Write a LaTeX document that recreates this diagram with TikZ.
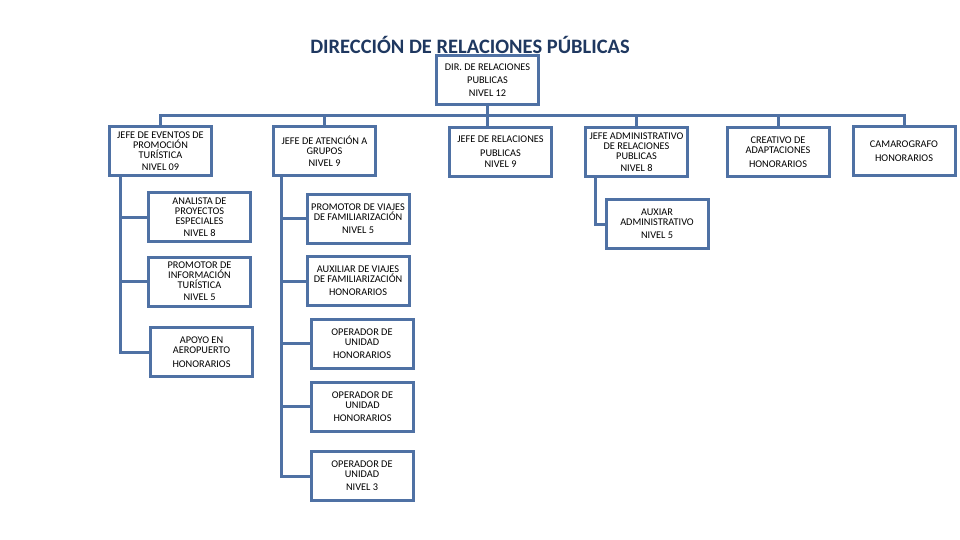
\documentclass[tikz,border=0pt]{standalone}
\usepackage{fontspec}
\setmainfont{Carlito}
\usepackage{xcolor}
\usetikzlibrary{positioning,calc}
\definecolor{boxblue}{RGB}{79,113,164}
\definecolor{titleblue}{RGB}{31,56,96}

\begin{document}
\begin{tikzpicture}[x=1pt,y=-1pt,
  puesto/.style={draw=boxblue, line width=3pt, fill=white, minimum width=102pt, minimum height=49pt,
    align=center, inner sep=1pt, font=\fontsize{10.3}{10}\selectfont},
  link/.style={draw=boxblue, line width=3pt}]
\useasboundingbox (0,0) rectangle (960,540);
% Title
\node[font=\fontsize{20.5}{22}\selectfont\bfseries, text=titleblue] (titulo) at (470,45) {DIRECCIÓN DE RELACIONES PÚBLICAS};

% Head
\node[puesto] (dir) at (487.5,80.5) {DIR. DE RELACIONES\\[3pt]PUBLICAS\\[3pt]NIVEL 12};

% Second level
\node[puesto] (j1) at (160.5,151) {JEFE DE EVENTOS DE\\PROMOCIÓN\\TURÍSTICA\\[2pt]NIVEL 09};
\node[puesto] (j2) at (324.5,151) {JEFE DE ATENCIÓN A\\GRUPOS\\[2pt]NIVEL 9};
\node[puesto] (j3) at (500.5,152) {JEFE DE RELACIONES\\[4pt]PUBLICAS\\[1pt]NIVEL 9};
\node[puesto] (j4) at (636.5,152) {JEFE ADMINISTRATIVO\\DE RELACIONES\\PUBLICAS\\[2pt]NIVEL 8};
\node[puesto] (j5) at (778,152) {CREATIVO DE\\ADAPTACIONES\\[4pt]HONORARIOS};
\node[puesto] (j6) at (904,151) {CAMAROGRAFO\\[4pt]HONORARIOS};

% Under JEFE DE EVENTOS
\node[puesto] (a1) at (199.5,217) {ANALISTA DE\\PROYECTOS\\ESPECIALES\\[2pt]NIVEL 8};
\node[puesto] (a2) at (199.5,281.5) {PROMOTOR DE\\INFORMACIÓN\\TURÍSTICA\\[2pt]NIVEL 5};
\node[puesto] (a3) at (201.5,352) {APOYO EN\\AEROPUERTO\\[4pt]HONORARIOS};

% Under JEFE DE ATENCION
\node[puesto] (m1) at (358,218.5) {PROMOTOR DE VIAJES\\DE FAMILIARIZACIÓN\\[3pt]NIVEL 5};
\node[puesto] (m2) at (358,281) {AUXILIAR DE VIAJES\\DE FAMILIARIZACIÓN\\[3pt]HONORARIOS};
\node[puesto] (m3) at (362,343.5) {OPERADOR DE\\UNIDAD\\[3pt]HONORARIOS};
\node[puesto] (m4) at (362.5,406.5) {OPERADOR DE\\UNIDAD\\[3pt]HONORARIOS};
\node[puesto] (m5) at (362,476) {OPERADOR DE\\UNIDAD\\[3pt]NIVEL 3};

% Under JEFE ADMINISTRATIVO
\node[puesto] (x1) at (657,224) {AUXIAR\\ADMINISTRATIVO\\[3pt]NIVEL 5};

% Bus
\coordinate (bus) at (0,116);
\draw[link] (dir.south) -- (dir.south |- j3.north);
\draw[link] (j1.north) -- (j1.north |- bus) -- (j6.north |- bus) -- (j6.north);
\foreach \n in {j2,j4,j5}
  \draw[link] (\n.north) -- (\n.north |- bus);

% Side branches
\coordinate (s1) at ([xshift=12.5pt]j1.south west);
\coordinate (s2) at ([xshift=9.5pt]j2.south west);
\coordinate (s4) at ([xshift=11.5pt]j4.south west);
\foreach \n in {a1,a2,a3}
  \draw[link] (s1) |- (\n.west);
\foreach \n in {m1,m2,m3,m4,m5}
  \draw[link] (s2) |- (\n.west);
\draw[link] (s4) |- (x1.west);
\end{tikzpicture}
\end{document}
